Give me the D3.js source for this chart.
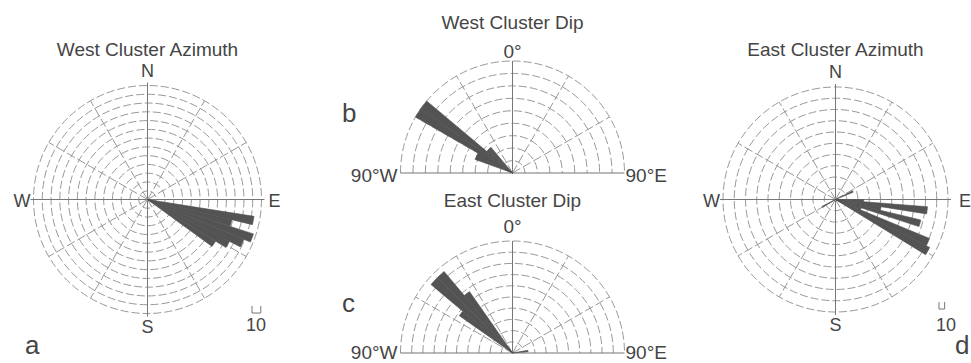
<!DOCTYPE html>
<html>
<head>
<meta charset="utf-8">
<script src="https://cdn.jsdelivr.net/npm/d3@7"></script>
<style>
body { margin: 0; background: #fff; }
text { font-family: "Liberation Sans", Arial, sans-serif; fill: #454545; }
</style>
</head>
<body>
<div id="root"></div>
<script>
// azimuth bins: start angle (deg clockwise from N) and counts
var westAzBins = [99, 103.5, 108, 112.5, 117, 121.5];
var westAzCounts = [123, 99, 127, 119, 105, 91];
var eastAzBins = [63, 90, 94.5, 99, 103.5, 108, 112.5, 117, 238.5];
var eastAzCounts = [34, 50, 164, 82, 156, 48, 181, 188, 27];
var azBinWidth = 4.5;

// dip bins: start angle from vertical (west negative) and counts
var westDipBins = [-70, -65, -60, -55, -50, -45];
var westDipCounts = [32, 32, 90, 90, 27, 27];
var eastDipBins = [-55, -50, -45, -40, 80];
var eastDipCounts = [58, 95, 95, 67, 14];
var dipBinWidth = 5;

var compassLabels = ["N", "E", "S", "W"];
var dipLabels = ["90°W", "0°", "90°E"];

var width = 971, height = 363;
var gridColor = "#999", axisColor = "#777", wedgeColor = "#535353";

var svg = d3.select("#root").append("svg")
  .attr("width", width).attr("height", height)
  .style("display", "block");

var rad = function(deg) { return deg * Math.PI / 180; };

function zip(bins, counts) {
  return bins.map(function(b, i) { return {start: b, count: counts[i]}; });
}

// full compass rose
function azimuthRose(o) {
  var r = d3.scaleLinear().domain([0, o.max]).range([0, o.R]);
  var g = svg.append("g").attr("transform", "translate(" + o.cx + "," + o.cy + ")");

  g.selectAll("circle.ring")
    .data(d3.range(o.step, o.max + 0.1, o.step))
    .enter().append("circle")
    .attr("r", function(d) { return r(d); })
    .attr("fill", "none")
    .attr("stroke", gridColor)
    .attr("stroke-width", 1)
    .attr("stroke-dasharray", "8,3");

  g.selectAll("line.spoke")
    .data(d3.range(0, 360, 30))
    .enter().append("line")
    .attr("x1", 0).attr("y1", 0)
    .attr("x2", function(d) { var l = d % 90 == 0 ? o.R + 3 : o.R; return l * Math.sin(rad(d)); })
    .attr("y2", function(d) { var l = d % 90 == 0 ? o.R + 3 : o.R; return -l * Math.cos(rad(d)); })
    .attr("stroke", function(d) { return d % 90 == 0 ? axisColor : gridColor; })
    .attr("stroke-width", 1)
    .attr("stroke-dasharray", function(d) { return d % 90 == 0 ? null : "9,3"; });

  var arc = d3.arc()
    .innerRadius(0)
    .outerRadius(function(d) { return r(d.count); })
    .startAngle(function(d) { return rad(d.start); })
    .endAngle(function(d) { return rad(d.start + azBinWidth); });

  g.selectAll("path.wedge")
    .data(zip(o.bins, o.counts))
    .enter().append("path")
    .attr("d", arc)
    .attr("fill", wedgeColor)
    .attr("stroke", wedgeColor)
    .attr("stroke-width", 0.6);

  // N E S W
  var lp = [[0, -o.R - 9], [o.R + o.eOff, 7], [0, o.R + 19], [-o.R - 3, 7]];
  g.selectAll("text.dir")
    .data(compassLabels)
    .enter().append("text")
    .attr("x", function(d, i) { return lp[i][0]; })
    .attr("y", function(d, i) { return lp[i][1]; })
    .attr("text-anchor", function(d, i) { return i == 1 ? "start" : i == 3 ? "end" : "middle"; })
    .attr("font-size", "18px")
    .text(function(d) { return d; });

  svg.append("text")
    .attr("x", o.cx).attr("y", 56)
    .attr("text-anchor", "middle")
    .attr("font-size", "19px")
    .text(o.title);

  // scale bar for 10 counts
  var bw = r(10) - r(0);
  svg.append("path")
    .attr("d", "M" + o.barX + "," + (o.barY - 7) + "V" + o.barY + "H" + (o.barX + bw) + "V" + (o.barY - 7))
    .attr("fill", "none")
    .attr("stroke", axisColor)
    .attr("stroke-width", 1);
  svg.append("text")
    .attr("x", o.tenX).attr("y", 331)
    .attr("text-anchor", "middle")
    .attr("font-size", "18px")
    .text("10");

  svg.append("text")
    .attr("x", o.letterX).attr("y", 354)
    .attr("font-size", "26px")
    .text(o.letter);
}

// half rose for dip
function dipRose(o) {
  var r = d3.scaleLinear().domain([0, o.max]).range([0, o.R]);
  var g = svg.append("g").attr("transform", "translate(" + o.cx + "," + o.cy + ")");

  g.selectAll("path.ring")
    .data(d3.range(o.step, o.max + 0.1, o.step))
    .enter().append("path")
    .attr("d", function(d) {
      var p = d3.path();
      p.moveTo(-r(d), 0);
      p.arc(0, 0, r(d), Math.PI, 2 * Math.PI);
      return p.toString();
    })
    .attr("fill", "none")
    .attr("stroke", gridColor)
    .attr("stroke-width", 1)
    .attr("stroke-dasharray", "8,3");

  g.selectAll("line.spoke")
    .data([-60, -30, 0, 30, 60])
    .enter().append("line")
    .attr("x1", 0).attr("y1", 0)
    .attr("x2", function(d) { return o.R * Math.sin(rad(d)); })
    .attr("y2", function(d) { return -o.R * Math.cos(rad(d)); })
    .attr("stroke", function(d) { return d == 0 ? axisColor : gridColor; })
    .attr("stroke-width", 1)
    .attr("stroke-dasharray", function(d) { return d == 0 ? null : "9,3"; });

  g.append("line")
    .attr("x1", -o.R).attr("x2", o.R)
    .attr("y1", 0).attr("y2", 0)
    .attr("stroke", axisColor)
    .attr("stroke-width", 1.2);

  var arc = d3.arc()
    .innerRadius(0)
    .outerRadius(function(d) { return r(d.count); })
    .startAngle(function(d) { return rad(d.start); })
    .endAngle(function(d) { return rad(d.start + dipBinWidth); });

  g.selectAll("path.wedge")
    .data(zip(o.bins, o.counts))
    .enter().append("path")
    .attr("d", arc)
    .attr("fill", wedgeColor)
    .attr("stroke", wedgeColor)
    .attr("stroke-width", 0.6);

  var lp = [[-o.R - 3, o.sideY, "end"], [0, o.zeroY, "middle"], [o.R + 1, o.sideY, "start"]];
  g.selectAll("text.dir")
    .data(dipLabels)
    .enter().append("text")
    .attr("x", function(d, i) { return lp[i][0]; })
    .attr("y", function(d, i) { return lp[i][1]; })
    .attr("text-anchor", function(d, i) { return lp[i][2]; })
    .attr("font-size", "19px")
    .text(function(d) { return d; });

  svg.append("text")
    .attr("x", o.cx).attr("y", o.titleY)
    .attr("text-anchor", "middle")
    .attr("font-size", "19px")
    .text(o.title);

  svg.append("text")
    .attr("x", 342).attr("y", o.letterY)
    .attr("font-size", "26px")
    .text(o.letter);
}

azimuthRose({cx: 147.5, cy: 199.5, R: 114, max: 130, step: 10,
  bins: westAzBins, counts: westAzCounts, title: "West Cluster Azimuth",
  barX: 252, barY: 313, tenX: 256, letter: "a", letterX: 25, eOff: 7});

azimuthRose({cx: 835.5, cy: 199.5, R: 112.5, max: 200, step: 20,
  bins: eastAzBins, counts: eastAzCounts, title: "East Cluster Azimuth",
  barX: 939, barY: 309, tenX: 946, letter: "d", letterX: 955, eOff: 11});

dipRose({cx: 512.5, cy: 173, R: 112, max: 90, step: 10,
  bins: westDipBins, counts: westDipCounts, title: "West Cluster Dip",
  titleY: 29, zeroY: -115, sideY: 9, letter: "b", letterY: 122});

dipRose({cx: 512.5, cy: 353, R: 112, max: 100, step: 10,
  bins: eastDipBins, counts: eastDipCounts, title: "East Cluster Dip",
  titleY: 207, zeroY: -120, sideY: 6, letter: "c", letterY: 312});
</script>
</body>
</html>
